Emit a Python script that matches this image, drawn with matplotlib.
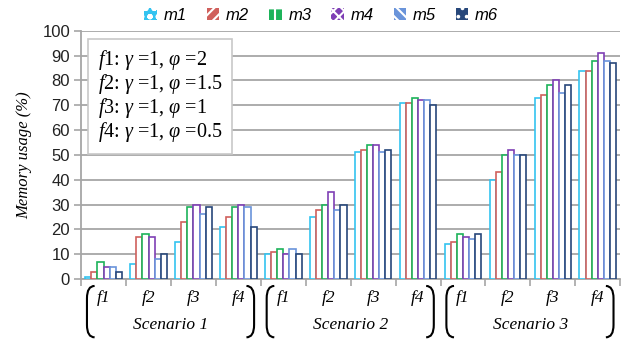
import matplotlib
matplotlib.use("Agg")
import matplotlib.pyplot as plt
import numpy as np
from matplotlib.patches import Patch, PathPatch
from matplotlib.path import Path
import matplotlib.transforms as mtransforms

plt.rcParams["mathtext.fontset"] = "custom"
plt.rcParams["mathtext.rm"] = "Liberation Serif"
plt.rcParams["mathtext.it"] = "Liberation Serif:italic"
plt.rcParams["hatch.color"] = "white"
plt.rcParams["hatch.linewidth"] = 1.5

series = ["m1", "m2", "m3", "m4", "m5", "m6"]
functions = ["f1", "f2", "f3", "f4"]
scenarios = ["Scenario 1", "Scenario 2", "Scenario 3"]
colors = ["#33C3F0", "#D0605C", "#1DB35A", "#7F3FB5", "#6A94DA", "#27477A"]
hatches = ["oo", "///", "+", "xxx", "\\\\\\", ".."]

# values per series, 12 groups (scenario x function)
m1 = [1, 6, 15, 21, 10, 25, 51, 71, 14, 40, 73, 84]
m2 = [3, 17, 23, 25, 11, 28, 52, 71, 15, 43, 74, 84]
m3 = [7, 18, 29, 29, 12, 30, 54, 73, 18, 50, 78, 88]
m4 = [5, 17, 30, 30, 10, 35, 54, 72, 17, 52, 80, 91]
m5 = [5, 8, 26, 29, 12, 28, 51, 72, 16, 50, 75, 88]
m6 = [3, 10, 29, 21, 10, 30, 52, 70, 18, 50, 78, 87]
data = [m1, m2, m3, m4, m5, m6]

fig = plt.figure(figsize=(6.24, 3.39), dpi=100)
ax = fig.add_axes([0.13, 0.177, 0.864, 0.732])

n = len(series)
bw = 0.136
x = np.arange(12)
for i, vals in enumerate(data):
    ax.bar(x + (i - (n - 1) / 2) * bw, vals, width=bw, facecolor="white",
           edgecolor=colors[i], linewidth=1.2, zorder=3)

ax.set_xlim(-0.5, 11.5)
ax.set_ylim(0, 100)
ax.set_yticks(np.arange(0, 101, 10))
ax.yaxis.grid(True, color="#A6A6A6", linewidth=1.3, zorder=0)
ax.set_axisbelow(True)
for s in ["top", "right"]:
    ax.spines[s].set_visible(False)
for s in ["left", "bottom"]:
    ax.spines[s].set_color("#A6A6A6")
    ax.spines[s].set_linewidth(1.3)
ax.set_xticks(np.arange(-0.5, 12, 1))
ax.set_xticklabels([])
ax.tick_params(axis="x", direction="out", length=5, color="#A6A6A6", width=1.2)
ax.tick_params(axis="y", direction="out", length=5, color="#A6A6A6", width=1.2,
               labelsize=12, pad=3)
for lab in ax.get_yticklabels():
    lab.set_fontfamily("Liberation Sans")
    lab.set_color("#222222")

ax.set_ylabel("Memory usage (%)", fontfamily="Liberation Serif", fontstyle="italic",
              fontsize=12, labelpad=7)

trans = mtransforms.blended_transform_factory(ax.transData, ax.transAxes)
for g in range(12):
    ax.text(g, -0.075, functions[g % 4], transform=trans, ha="center", va="center",
            fontfamily="Liberation Serif", fontstyle="italic", fontsize=12.5)
for k, sc in enumerate(scenarios):
    ax.text(4 * k + 1.5, -0.185, sc, transform=trans, ha="center", va="center",
            fontfamily="Liberation Serif", fontstyle="italic", fontsize=12.5)

def bracket(xd, left=True):
    top, bot = -0.028, -0.235
    d = 0.17 if left else -0.17
    r = 0.05
    verts = [(xd + d, top), (xd, top), (xd, top - r), (xd, bot + r),
             (xd, bot), (xd + d, bot)]
    codes = [Path.MOVETO, Path.CURVE3, Path.CURVE3, Path.LINETO, Path.CURVE3, Path.CURVE3]
    p = PathPatch(Path(verts, codes), transform=trans, fill=False, lw=1.5,
                  edgecolor="black", clip_on=False)
    ax.add_patch(p)

for k in range(3):
    bracket(4 * k - 0.5 + 0.13, left=True)
    bracket(4 * k + 3.5 - 0.15, left=False)

txt = "\n".join([
    r"$\mathit{f1}$: $\gamma$ =1, $\varphi$ =2",
    r"$\mathit{f2}$: $\gamma$ =1, $\varphi$ =1.5",
    r"$\mathit{f3}$: $\gamma$ =1, $\varphi$ =1",
    r"$\mathit{f4}$: $\gamma$ =1, $\varphi$ =0.5",
])
ax.text(0.031, 0.93, txt, transform=ax.transAxes, ha="left", va="top",
        fontfamily="Liberation Serif", fontsize=14.5, linespacing=1.0, zorder=5,
        bbox=dict(boxstyle="square,pad=0.48", facecolor="white", edgecolor="#C8C8C8", lw=1.2))

handles = [Patch(facecolor=colors[i], hatch=hatches[i], linewidth=0, label=series[i])
           for i in range(n)]
leg = fig.legend(handles=handles, loc="center", bbox_to_anchor=(0.515, 0.955), ncol=6,
                 frameon=False, handlelength=0.75, handleheight=0.75, handletextpad=0.4,
                 columnspacing=1.2, prop=dict(family="Liberation Sans", style="italic", size=12))

fig.savefig("out.png", dpi=100)
